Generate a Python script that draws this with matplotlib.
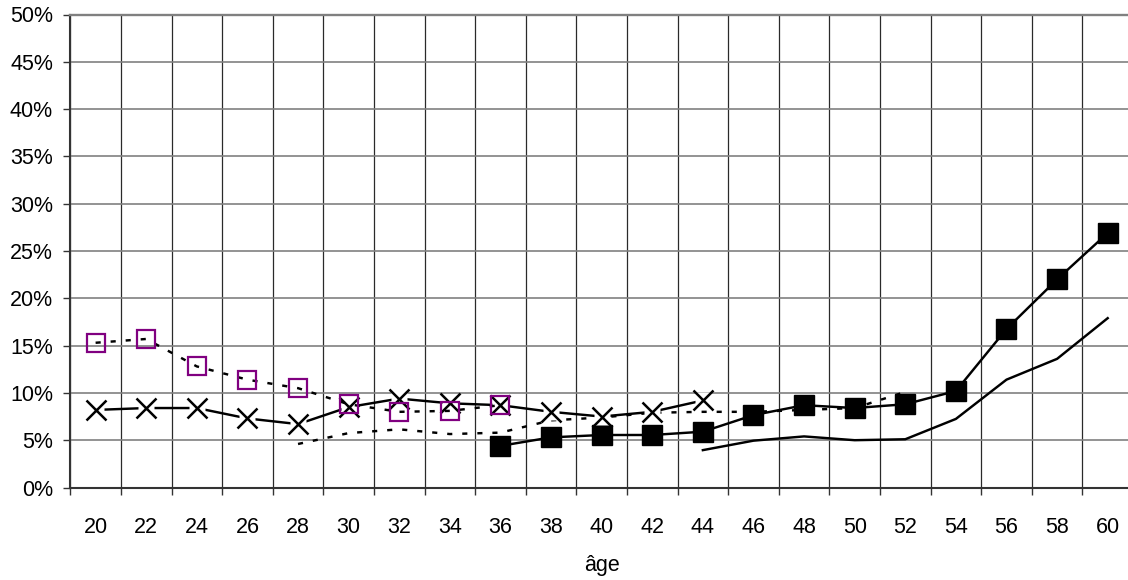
import numpy as np
import matplotlib
matplotlib.use('Agg')
import matplotlib.pyplot as plt

plt.rcParams['font.family'] = ['Liberation Sans', 'DejaVu Sans']

# age categories on the x axis
ages = [20, 22, 24, 26, 28, 30, 32, 34, 36, 38, 40, 42, 44, 46, 48, 50, 52, 54, 56, 58, 60]
na = np.nan

# purple open squares, dotted line (20-36)
sq_open = [15.3, 15.7, 12.8, 11.4, 10.5, 8.8, 8.0, 8.1, 8.7,
           na, na, na, na, na, na, na, na, na, na, na, na]
# crosses, solid line (20-44)
cross = [8.2, 8.4, 8.4, 7.3, 6.7, 8.5, 9.4, 8.9, 8.7, 8.0, 7.5, 8.0, 9.2,
         na, na, na, na, na, na, na, na]
# dotted line, no markers (28-52)
dotted = [na, na, na, na, 4.6, 5.75, 6.15, 5.65, 5.8, 7.1, 7.4, 7.9, 8.0,
          8.0, 8.2, 8.4, 10.1, na, na, na, na]
# filled black squares, solid line (36-60)
sq_full = [na, na, na, na, na, na, na, na, 4.4, 5.3, 5.55, 5.55, 5.9,
           7.65, 8.7, 8.4, 8.8, 10.2, 16.75, 22.0, 26.9]
# plain solid line (44-60)
plain = [na, na, na, na, na, na, na, na, na, na, na, na, 3.95,
         4.95, 5.4, 5.0, 5.1, 7.25, 11.4, 13.6, 17.9]

x = np.arange(len(ages))
pct = lambda v: np.array(v, dtype=float) / 100.0

fig = plt.figure(figsize=(11.28, 5.8), dpi=100)
ax = fig.add_axes([70.3 / 1128, 92.5 / 580, (1133 - 70.3) / 1128, 473 / 580])

# grid
ax.set_xlim(-0.5, len(ages) - 0.5)
ax.set_ylim(0, 0.5)
ax.set_yticks(np.arange(0, 0.501, 0.05))
ax.set_yticklabels(['%d%%' % round(v * 100) for v in np.arange(0, 0.501, 0.05)])
ax.set_xticks(x)
ax.set_xticklabels([str(a) for a in ages])
ax.set_xticks(np.arange(-0.5, len(ages), 1), minor=True)
ax.grid(True, axis='y', which='major', color='#808080', lw=1.2, zorder=0)
ax.grid(True, axis='x', which='minor', color='#2a2a2a', lw=0.9, zorder=0)
ax.set_axisbelow(True)

ax.tick_params(axis='x', which='major', length=0, pad=21, labelsize=15.5)
ax.tick_params(axis='x', which='minor', length=5, width=1, color='#333333', direction='out')
ax.tick_params(axis='y', which='major', length=5, width=1, color='#333333', pad=7.5, labelsize=15.5)

ax.spines['right'].set_visible(False)
ax.spines['top'].set_color('#808080')
ax.spines['top'].set_linewidth(1.7)
ax.spines['left'].set_color('#333333')
ax.spines['left'].set_linewidth(1.5)
ax.spines['bottom'].set_color('#333333')
ax.spines['bottom'].set_linewidth(1.5)

lw = 1.75
dots = (0, (2.1, 4.1))

ax.plot(x, pct(plain), color='black', lw=lw, zorder=3)
ax.plot(x, pct(dotted), color='black', lw=lw, ls=dots, zorder=3)
ax.plot(x, pct(sq_full), color='black', lw=lw, marker='s', ms=14.5,
        mfc='black', mec='black', mew=1, zorder=4)
ax.plot(x, pct(cross), color='black', lw=lw, zorder=5)
ax.plot(x, pct(cross), ls='none', marker='s', ms=12, mfc='white', mec='none', zorder=5)
ax.plot(x, pct(cross), ls='none', marker='x', ms=14.5, mec='black', mew=1.8, zorder=6)
ax.plot(x, pct(sq_open), color='black', lw=lw, ls=dots, zorder=6)
ax.plot(x, pct(sq_open), ls='none', marker='s', ms=13.3, mfc='none',
        mec='#800080', mew=1.6, zorder=7)

ax.set_xlabel('âge', fontsize=15.5)
ax.xaxis.set_label_coords(0.5, (487.5 - 566) / 473)
ax.xaxis.label.set_va('center')

fig.savefig('out.png', dpi=100)
